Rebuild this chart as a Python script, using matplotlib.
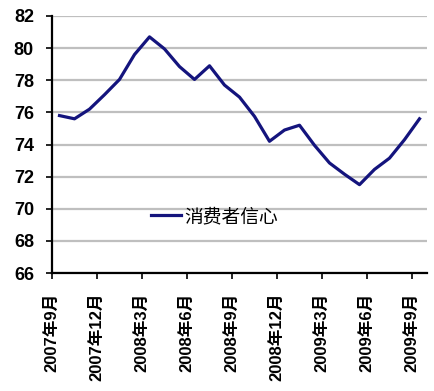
import matplotlib
matplotlib.use("Agg")
import matplotlib.pyplot as plt

# monthly consumer confidence, Sep 2007 - Sep 2009
confidence = [75.8, 75.6, 76.2, 77.1, 78.05, 79.6, 80.7, 79.95, 78.85, 78.05,
              78.9, 77.7, 76.95, 75.75, 74.2, 74.9, 75.2, 73.95, 72.85, 72.15,
              71.5, 72.45, 73.15, 74.3, 75.6]
tick_labels = ["2007年9月", "2007年12月", "2008年3月", "2008年6月", "2008年9月",
               "2008年12月", "2009年3月", "2009年6月", "2009年9月"]
series_name = "消费者信心"

plt.rcParams['font.family'] = ['Liberation Sans', 'Noto Sans CJK SC', 'DejaVu Sans']

fig = plt.figure(figsize=(4.35, 3.91), dpi=100)
ax = fig.add_axes([52 / 435, 1 - 273 / 391, 375 / 435, 257 / 391])

x = [i + 0.5 for i in range(len(confidence))]
line, = ax.plot(x, confidence, color='#14147d', linewidth=2.3, label=series_name)

ax.set_xlim(0, len(confidence))
ax.set_ylim(66, 82)
ax.set_yticks(range(66, 83, 2))
ax.yaxis.grid(True, color='#bfbfbf', linewidth=1.6)
ax.set_axisbelow(True)

ax.set_xticks(range(0, len(confidence), 3))
ax.set_xticklabels(tick_labels, rotation=90, fontsize=12, fontweight='bold')
for lab in ax.get_yticklabels():
    lab.set_fontsize(13)
    lab.set_fontweight('bold')

ax.tick_params(axis='x', direction='out', length=4, width=1.2, pad=10)
ax.tick_params(axis='y', direction='out', length=4, width=1.2, pad=9)
for side in ['top', 'right']:
    ax.spines[side].set_visible(False)
for side in ['left', 'bottom']:
    ax.spines[side].set_linewidth(1.6)

ax.legend(handles=[line], loc='center left', bbox_to_anchor=(0.22, 0.22),
          frameon=False, handlelength=1.6, handletextpad=0.15,
          prop={'family': ['Noto Sans CJK SC'], 'size': 13.5})

fig.savefig("out.png", dpi=100)
